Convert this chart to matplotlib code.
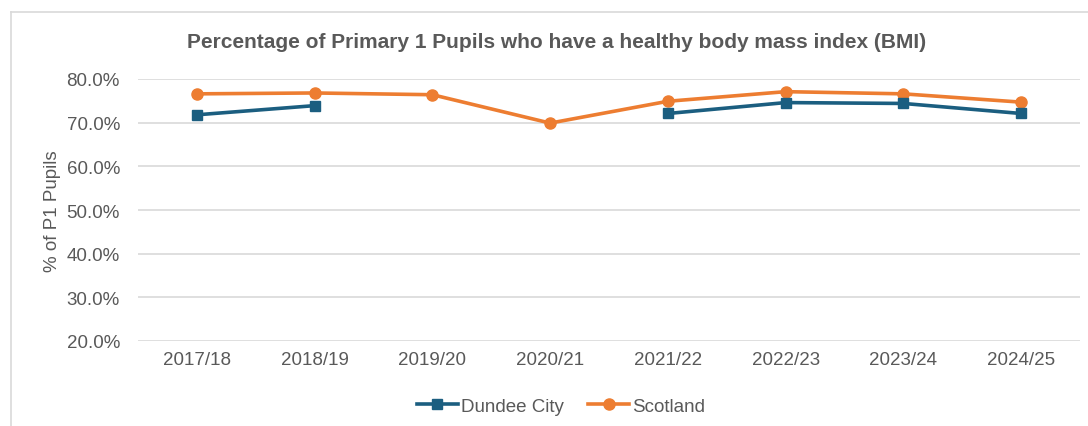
import numpy as np
import matplotlib
matplotlib.use("Agg")
import matplotlib.pyplot as plt
from matplotlib.lines import Line2D

years = ['2017/18', '2018/19', '2019/20', '2020/21', '2021/22', '2022/23', '2023/24', '2024/25']
dundee = [71.8, 73.9, np.nan, np.nan, 72.1, 74.6, 74.4, 72.1]
scotland = [76.6, 76.8, 76.4, 69.9, 74.9, 77.1, 76.6, 74.7]

dundee_col = '#1B5E80'
scotland_col = '#ED7D31'
text_col = '#595959'

plt.rcParams['font.family'] = ['Liberation Sans', 'DejaVu Sans']

fig = plt.figure(figsize=(10.88, 4.27), dpi=100)
ax = fig.add_axes([138 / 1088, 1 - 342 / 427, 942 / 1088, 262 / 427])

x = np.arange(len(years))
ax.plot(x, scotland, color=scotland_col, lw=2.6, marker='o', ms=8, zorder=3)
ax.plot(x, dundee, color=dundee_col, lw=2.6, marker='s', ms=7.5, zorder=4)

ax.set_xlim(-0.5, len(years) - 0.5)
ax.set_ylim(20, 80)
ax.set_yticks(np.arange(20, 81, 10))
ax.set_yticklabels(['%.1f%%' % v for v in np.arange(20, 81, 10)])
ax.set_xticks(x)
ax.set_xticklabels(years)
ax.tick_params(axis='both', length=0, labelsize=13.5, colors=text_col, pad=7)
ax.tick_params(axis='y', pad=13)
ax.grid(axis='y', color='#d9d9d9', lw=1.2)
ax.set_axisbelow(True)
for s in ax.spines.values():
    s.set_visible(False)

ax.set_ylabel('% of P1 Pupils', fontsize=13.5, color=text_col, labelpad=4)

fig.text(557 / 1088, 1 - 43 / 427, 'Percentage of Primary 1 Pupils who have a healthy body mass index (BMI)',
         ha='center', va='center', fontsize=15, weight='bold', color=text_col)

handles = [Line2D([], [], color=dundee_col, lw=2.6, marker='s', ms=7.5),
           Line2D([], [], color=scotland_col, lw=2.6, marker='o', ms=8)]
fig.legend(handles, ['Dundee City', 'Scotland'], loc='center', bbox_to_anchor=(561 / 1088, 1 - 407 / 427),
           ncol=2, frameon=False, fontsize=13.5, labelcolor=text_col, handlelength=2.2,
           handletextpad=0.15, columnspacing=1.3)

# chart border (top and left edges visible in the crop)
fig.add_artist(Line2D([11 / 1088, 1.0], [1 - 13 / 427, 1 - 13 / 427], color='#d9d9d9', lw=1.2))
fig.add_artist(Line2D([11 / 1088, 11 / 1088], [0, 1 - 13 / 427], color='#d9d9d9', lw=1.2))

fig.savefig('out.png', dpi=100)
